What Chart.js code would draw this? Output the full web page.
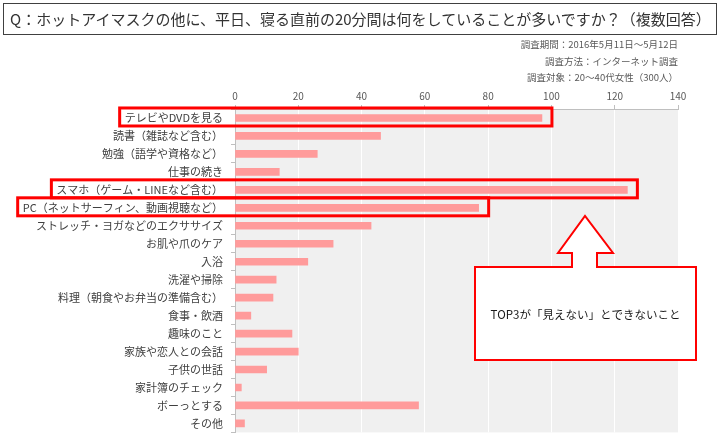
<!DOCTYPE html>
<html>
<head>
<meta charset="utf-8">
<script src="https://cdn.jsdelivr.net/npm/chart.js@4.4.1/dist/chart.umd.min.js"></script>
<style>
  body { margin: 0; background: #fff; font-family: "Noto Sans CJK JP", sans-serif; }
  #wrap { position: relative; width: 720px; height: 447px; overflow: hidden; }
  #title {
    position: absolute; left: 3px; top: 3px; width: 714px; height: 32px;
    box-sizing: border-box; border: 1px solid #404040;
    font-size: 15px; line-height: 30px; padding-left: 6px; color: #333; white-space: nowrap;
  }
  .note { position: absolute; right: 42px; font-size: 9.5px; line-height: 12px; color: #595959; white-space: nowrap; }
  canvas { position: absolute; left: 0; top: 0; }
</style>
</head>
<body>
<div id="wrap">
  <canvas id="surveyChart" width="720" height="447"></canvas>
  <div id="title">Q：ホットアイマスクの他に、平日、寝る直前の20分間は何をしていることが多いですか？（複数回答）</div>
  <div class="note" style="top:38px">調査期間：2016年5月11日～5月12日</div>
  <div class="note" style="top:55px">調査方法：インターネット調査</div>
  <div class="note" style="top:71px">調査対象：20～40代女性（300人）</div>
</div>
<script>
// categories (top to bottom) and answer counts
const categories = [
  'テレビやDVDを見る',
  '読書（雑誌など含む）',
  '勉強（語学や資格など）',
  '仕事の続き',
  'スマホ（ゲーム・LINEなど含む）',
  'PC（ネットサーフィン、動画視聴など）',
  'ストレッチ・ヨガなどのエクササイズ',
  'お肌や爪のケア',
  '入浴',
  '洗濯や掃除',
  '料理（朝食やお弁当の準備含む）',
  '食事・飲酒',
  '趣味のこと',
  '家族や恋人との会話',
  '子供の世話',
  '家計簿のチェック',
  'ボーっとする',
  'その他'
];
const counts = [97, 46, 26, 14, 124, 77, 43, 31, 23, 13, 12, 5, 18, 20, 10, 2, 58, 3];
const xTicks = [0, 20, 40, 60, 80, 100, 120, 140];
const top3 = [0, 4, 5]; // rows boxed in red
const calloutText = 'TOP3が「見えない」とできないこと';

const LABEL_FONT = '11px "Noto Sans CJK JP", sans-serif';

// grey plot background
const plotBg = {
    id: 'plotBg',
    beforeDraw(chart) {
        const a = chart.chartArea;
        chart.ctx.save();
        chart.ctx.fillStyle = '#F0F0F0';
        chart.ctx.fillRect(a.left, a.top, a.right - a.left, a.bottom - a.top);
        chart.ctx.restore();
    }
};

// red boxes around the top 3 rows (label + bar)
const top3Boxes = {
    id: 'top3Boxes',
    afterDraw(chart) {
        const ctx = chart.ctx;
        const x = chart.scales.x, y = chart.scales.y;
        const labelRight = y.right - 4 - 8;
        ctx.save();
        ctx.font = LABEL_FONT;
        ctx.strokeStyle = '#FF0000';
        ctx.lineWidth = 3;
        top3.forEach(function (i) {
            const w = ctx.measureText(categories[i]).width;
            const left = labelRight - w - 5;
            const right = x.getPixelForValue(counts[i]) + 10;
            const cy = y.getPixelForValue(i);
            ctx.strokeRect(left, cy - 10, right - left, 18);
        });
        ctx.restore();
    }
};

// arrow callout under the boxes
const callout = {
    id: 'callout',
    afterDraw(chart) {
        const ctx = chart.ctx;
        const bx1 = 475, bx2 = 696, by1 = 267, by2 = 360;
        const tipX = 585, tipY = 216, headY = 253, headL = 558, headR = 613, shL = 572, shR = 597;
        ctx.save();
        ctx.beginPath();
        ctx.moveTo(bx1, by1);
        ctx.lineTo(shL, by1);
        ctx.lineTo(shL, headY);
        ctx.lineTo(headL, headY);
        ctx.lineTo(tipX, tipY);
        ctx.lineTo(headR, headY);
        ctx.lineTo(shR, headY);
        ctx.lineTo(shR, by1);
        ctx.lineTo(bx2, by1);
        ctx.lineTo(bx2, by2);
        ctx.lineTo(bx1, by2);
        ctx.closePath();
        ctx.fillStyle = '#FFFFFF';
        ctx.fill();
        ctx.strokeStyle = '#FF0000';
        ctx.lineWidth = 2;
        ctx.stroke();
        ctx.fillStyle = '#1a1a1a';
        ctx.font = '11.5px "Noto Sans CJK JP", sans-serif';
        ctx.textAlign = 'center';
        ctx.textBaseline = 'middle';
        ctx.fillText(calloutText, (bx1 + bx2) / 2, (by1 + by2) / 2 + 1);
        ctx.restore();
    }
};

new Chart(document.getElementById('surveyChart'), {
    type: 'bar',
    data: {
        labels: categories,
        datasets: [{
            data: counts,
            backgroundColor: '#FF9B9B',
            barThickness: 7
        }]
    },
    options: {
        indexAxis: 'y',
        responsive: false,
        animation: false,
        layout: { padding: { left: 0, right: 42, top: 0, bottom: 10 } },
        plugins: {
            legend: { display: false },
            tooltip: { enabled: false }
        },
        scales: {
            x: {
                position: 'top',
                min: xTicks[0],
                max: xTicks[xTicks.length - 1],
                afterBuildTicks(scale) { scale.ticks = xTicks.map(v => ({ value: v })); },
                afterFit(scale) { scale.height = 109; },
                ticks: {
                    color: '#595959',
                    font: { family: '"Noto Sans CJK JP", sans-serif', size: 10 },
                    padding: 3,
                    maxRotation: 0
                },
                grid: { color: '#FFFFFF', tickColor: '#BFBFBF', tickLength: 4 },
                border: { color: '#BFBFBF' }
            },
            y: {
                afterFit(scale) { scale.width = 235; },
                ticks: {
                    color: '#404040',
                    font: { family: '"Noto Sans CJK JP", sans-serif', size: 11 },
                    padding: 8,
                    autoSkip: false
                },
                grid: { offset: true, drawOnChartArea: false, tickColor: '#BFBFBF', tickLength: 4 },
                border: { color: '#BFBFBF' }
            }
        }
    },
    plugins: [plotBg, top3Boxes, callout]
});
</script>
</body>
</html>
